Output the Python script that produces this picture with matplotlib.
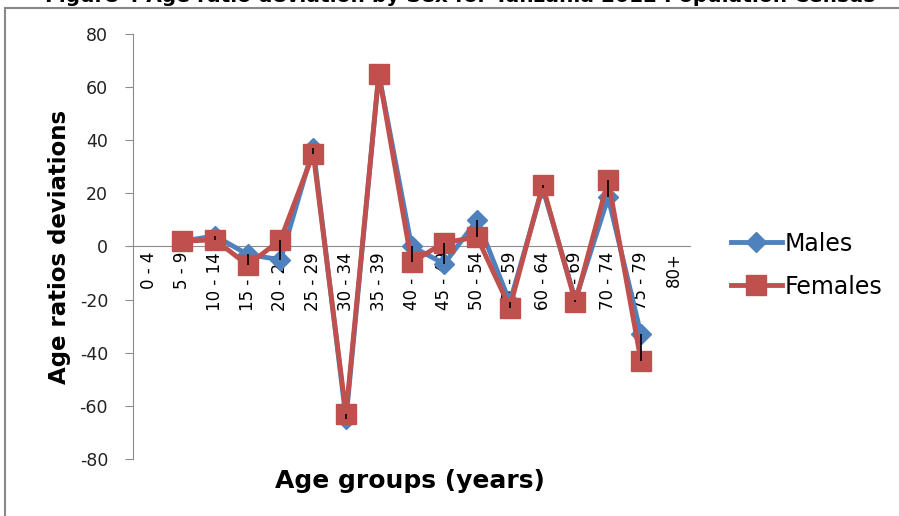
import matplotlib.pyplot as plt
from matplotlib.patches import Rectangle
import numpy as np

# Age groups and deviation values
age_groups = ["0 - 4", "5 - 9", "10 - 14", "15 - 19", "20 - 24", "25 - 29",
              "30 - 34", "35 - 39", "40 - 44", "45 - 49", "50 - 54", "55 - 59",
              "60 - 64", "65 - 69", "70 - 74", "75 - 79", "80+"]
males = [np.nan, 2, 4, -3, -5, 37, -65, 65, 0, -6.5, 10, -21, 22, -20, 18.5, -33, np.nan]
females = [np.nan, 2, 2.5, -7, 2.5, 35, -63, 65, -6, 1.5, 3.5, -23, 23, -21, 25, -43, np.nan]
y_ticks = [-80, -60, -40, -20, 0, 20, 40, 60, 80]

blue = "#4F81BD"
red = "#C0504D"
grey = "#8C8C8C"

fig = plt.figure(figsize=(8.99, 5.16), dpi=100)
ax = fig.add_axes([0.148, 0.1105, 0.6196, 0.8236])

x = np.arange(len(age_groups))

# High-low lines between the two series
ax.vlines(x, np.fmin(males, females), np.fmax(males, females),
          color="black", linewidth=1.2, zorder=5)

ax.plot(x, males, color=blue, linewidth=3.5, marker="D", markersize=10,
        label="Males", zorder=3)
ax.plot(x, females, color=red, linewidth=3.5, marker="s", markersize=14,
        label="Females", zorder=4)

# x axis crosses at zero (set before the tick labels, it resets the ticks)
ax.spines["bottom"].set_position(("data", 0))
ax.spines["bottom"].set_color(grey)
ax.spines["left"].set_color(grey)
ax.spines["top"].set_visible(False)
ax.spines["right"].set_visible(False)

ax.set_xlim(-0.5, len(age_groups) - 0.5)
ax.set_ylim(-80, 80)
ax.set_yticks(y_ticks)
ax.set_yticklabels([str(v) for v in y_ticks], fontsize=12.5, color="#222222")
ax.set_xticks(x)
ax.set_xticklabels(age_groups, fontsize=12, color="black")
ax.tick_params(axis="x", length=0, pad=4, labelrotation=90)
ax.tick_params(axis="y", length=6, color=grey, direction="out", pad=12)

ax.set_ylabel("Age ratios deviations", fontsize=16.5, fontweight="bold", labelpad=6)
fig.text(0.456, 0.067, "Age groups (years)", fontsize=18, fontweight="bold",
         ha="center", va="center")

ax.legend(loc="center left", bbox_to_anchor=(1.035, 0.456), frameon=False,
          fontsize=17, handlelength=2.15, labelspacing=0.8, handletextpad=0.15)

# Chart title (partially cut at the top of the image)
fig.text(0.512, 1.006, "Figure 4 Age ratio deviation by Sex for Tanzania 2012 Population Census",
         fontsize=14.5, fontweight="bold", ha="center", va="center")

# Chart area border
fig.patches.append(Rectangle((5 / 899, -0.1), 1.2, 1.1 - 8 / 516,
                             transform=fig.transFigure, fill=False,
                             edgecolor="#888888", linewidth=1.5))

plt.savefig("out.png", dpi=100)
